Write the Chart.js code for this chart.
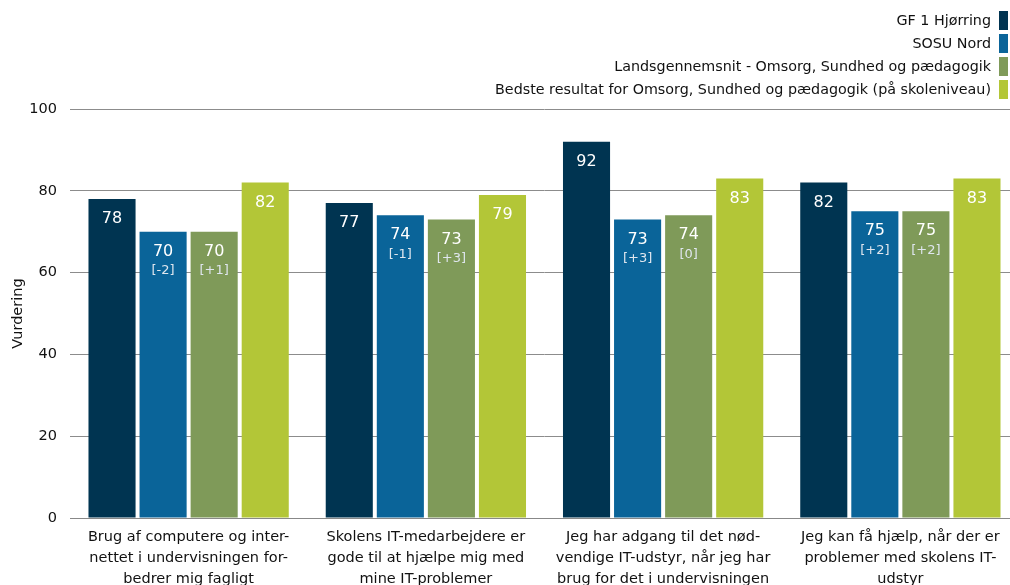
<!DOCTYPE html>
<html lang="da">
<head>
<meta charset="UTF-8">
<title>Vurdering</title>
<script src="https://cdn.jsdelivr.net/npm/chart.js"></script>
<style>
    * { margin: 0; padding: 0; box-sizing: border-box; }
    body { background: #fff; width: 1010px; height: 585px; overflow: hidden; position: relative; font-family: 'DejaVu Sans', sans-serif; }
    /* plot runs a little past the right edge, as in the original */
    .chart-wrap { position: absolute; left: 0; top: 0; width: 1024px; height: 585px; }
    .legend { position: absolute; right: 2px; top: 9px; text-align: right; font-size: 14.3px; color: #111; z-index: 2; }
    .legend div { height: 23px; line-height: 23px; display: flex; justify-content: flex-end; align-items: center; }
    .legend span.box { display: inline-block; width: 9px; height: 19px; margin-left: 8px; }
</style>
</head>
<body>
<div class="legend" id="legend"></div>
<div class="chart-wrap"><canvas id="chart"></canvas></div>
<script>
    const categories = [
        ['Brug af computere og inter-', 'nettet i undervisningen for-', 'bedrer mig fagligt'],
        ['Skolens IT-medarbejdere er', 'gode til at hjælpe mig med', 'mine IT-problemer'],
        ['Jeg har adgang til det nød-', 'vendige IT-udstyr, når jeg har', 'brug for det i undervisningen'],
        ['Jeg kan få hjælp, når der er', 'problemer med skolens IT-', 'udstyr']
    ];
    const seriesNames = [
        'GF 1 Hjørring',
        'SOSU Nord',
        'Landsgennemsnit - Omsorg, Sundhed og pædagogik',
        'Bedste resultat for Omsorg, Sundhed og pædagogik (på skoleniveau)'
    ];
    const seriesColors = ['#003451', '#0a6499', '#7f9a59', '#b3c637'];
    const hjoerring = [78, 77, 92, 82];
    const sosuNord = [70, 74, 73, 75];
    const landsgennemsnit = [70, 73, 74, 75];
    const bedste = [82, 79, 83, 83];
    const sosuDiff = ['[-2]', '[-1]', '[+3]', '[+2]'];
    const landsDiff = ['[+1]', '[+3]', '[0]', '[+2]'];
    const yTicks = [0, 20, 40, 60, 80, 100];

    const values = [hjoerring, sosuNord, landsgennemsnit, bedste];
    const diffs = [null, sosuDiff, landsDiff, null];

    // Legend (text left of colour box, right aligned)
    const legendEl = document.getElementById('legend');
    seriesNames.forEach((name, i) => {
        const row = document.createElement('div');
        row.innerHTML = '<span>' + name + '</span><span class="box" style="background:' + seriesColors[i] + '"></span>';
        legendEl.appendChild(row);
    });

    const barLabels = {
        id: 'barLabels',
        afterDatasetsDraw(chart) {
            const ctx = chart.ctx;
            ctx.save();
            ctx.textAlign = 'center';
            ctx.textBaseline = 'middle';
            chart.data.datasets.forEach((ds, di) => {
                const meta = chart.getDatasetMeta(di);
                meta.data.forEach((bar, i) => {
                    ctx.fillStyle = '#ffffff';
                    ctx.font = '16px "DejaVu Sans", sans-serif';
                    ctx.fillText(ds.data[i], bar.x, bar.y + 20);
                    if (diffs[di]) {
                        ctx.fillStyle = '#dfe6ee';
                        ctx.font = '13px "DejaVu Sans", sans-serif';
                        ctx.fillText(diffs[di][i], bar.x, bar.y + 39);
                    }
                });
            });
            ctx.restore();
        }
    };

    new Chart(document.getElementById('chart'), {
        type: 'bar',
        data: {
            labels: categories,
            datasets: values.map((v, i) => ({
                label: seriesNames[i],
                data: v,
                backgroundColor: seriesColors[i],
                categoryPercentage: 0.861,
                barPercentage: 0.922
            }))
        },
        options: {
            responsive: true,
            maintainAspectRatio: false,
            animation: false,
            layout: { padding: { top: 109, right: 5, left: 10, bottom: 0 } },
            plugins: {
                legend: { display: false },
                tooltip: { enabled: false }
            },
            scales: {
                x: {
                    afterFit(axis) { axis.height = 67; },
                    grid: { display: false },
                    border: { display: true, color: '#888', width: 1 },
                    ticks: {
                        color: '#111',
                        font: { family: 'DejaVu Sans', size: 14.5, lineHeight: 1.45 },
                        maxRotation: 0,
                        autoSkip: false,
                        padding: 1
                    }
                },
                y: {
                    min: 0,
                    max: 100,
                    afterFit(axis) { axis.width = 60; },
                    afterBuildTicks(axis) { axis.ticks = yTicks.map(v => ({ value: v })); },
                    grid: { color: '#8c8c8c', drawTicks: true, tickLength: 0 },
                    border: { display: false },
                    ticks: {
                        color: '#111',
                        font: { family: 'DejaVu Sans', size: 14.5 },
                        padding: 13
                    },
                    title: {
                        display: true,
                        text: 'Vurdering',
                        color: '#111',
                        font: { family: 'DejaVu Sans', size: 14.5 },
                        padding: { top: 0, bottom: 3 }
                    }
                }
            }
        },
        plugins: [barLabels]
    });
</script>
</body>
</html>
